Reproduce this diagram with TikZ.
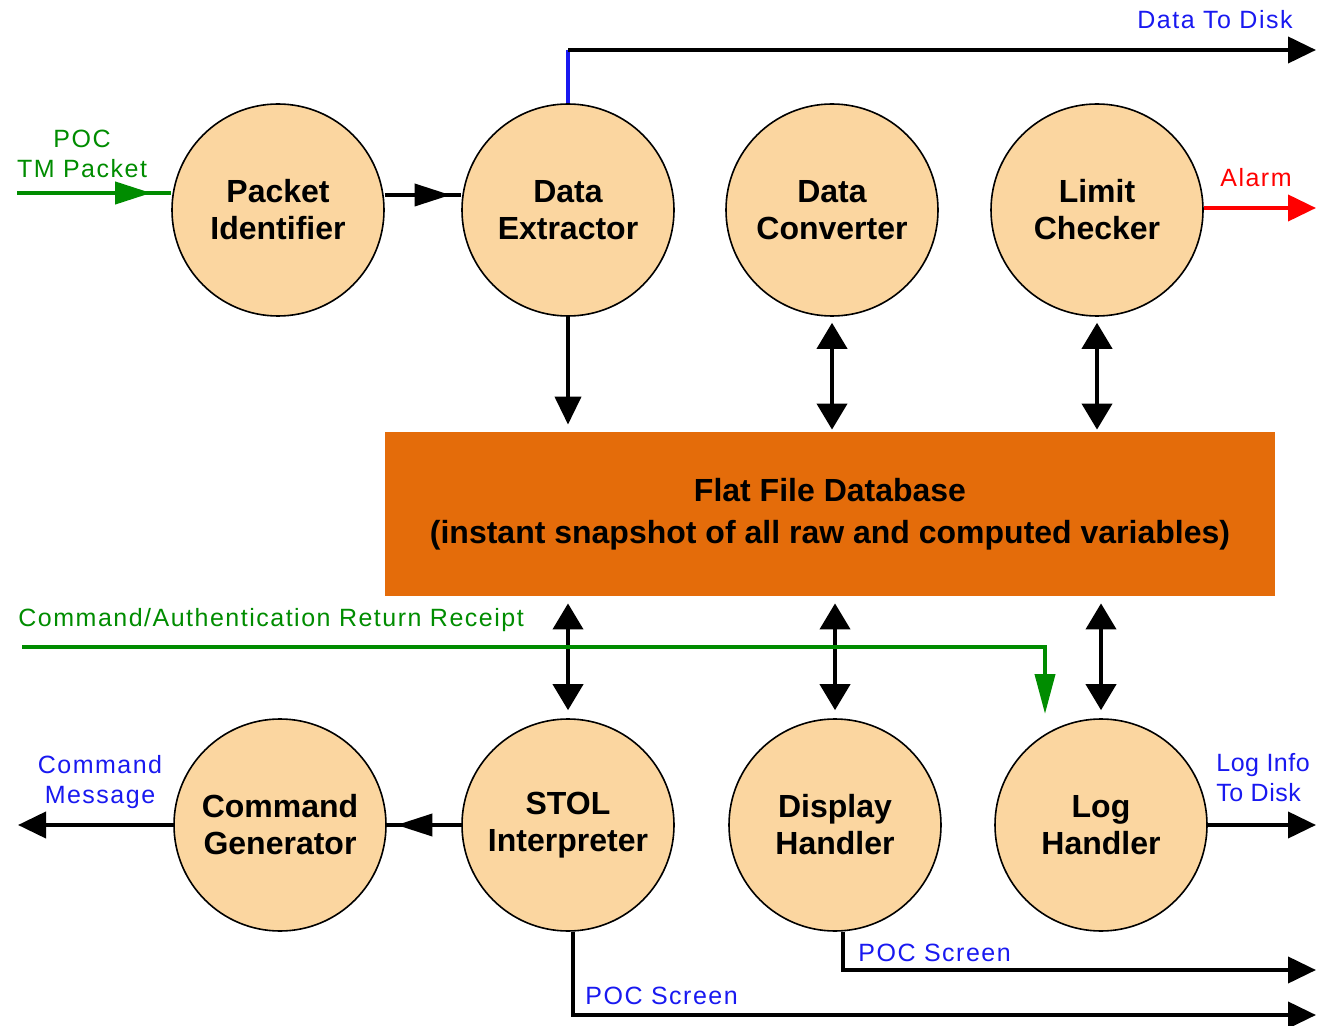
\documentclass[tikz,border=0pt]{standalone}
\usepackage{fontspec}
\setmainfont{Liberation Sans}
\usetikzlibrary{arrows.meta,decorations.markings}
\definecolor{circfill}{RGB}{251,214,160}
\definecolor{dbfill}{RGB}{228,108,10}
\definecolor{grn}{RGB}{0,140,0}
\definecolor{blu}{RGB}{25,25,240}
\definecolor{alarmred}{RGB}{255,0,0}
\begin{document}
\begin{tikzpicture}[x=0.5pt,y=-0.5pt,
  proc/.style={circle, draw=black, line width=0.8pt, fill=circfill, minimum size=106pt, inner sep=0pt, align=center, font=\fontsize{16}{18.5}\selectfont\bfseries},
  dbbox/.style={rectangle, fill=dbfill, minimum width=445pt, minimum height=82pt, inner sep=0pt, align=center, font=\fontsize{16}{21}\selectfont\bfseries},
  lbl/.style={inner sep=0pt, align=center, font=\fontsize{12.5}{15}\selectfont\addfontfeature{LetterSpace=6}},
  lbll/.style={lbl, anchor=west, align=left},
  flow/.style={line width=2pt, -{Triangle[length=14pt,width=13pt]}},
  both/.style={line width=2pt, {Triangle[length=13pt,width=15pt]}-{Triangle[length=13pt,width=15pt]}},
  midtip/.style={postaction={decorate}, decoration={markings, mark=at position #1 with {\arrow{Triangle[length=18pt,width=11pt]}}}},
]
\useasboundingbox (0,0) rectangle (1317,1026);

% processes
\node[proc] (pi) at (278,210) {Packet\\Identifier};
\node[proc] (de) at (568,210) {Data\\Extractor};
\node[proc] (dc) at (832,210) {Data\\Converter};
\node[proc] (lc) at (1097,210) {Limit\\Checker};
\node[proc] (cg) at (280,825) {Command\\Generator};
\node[proc] (si) at (568,825) {STOL\\Interpreter};
\node[proc] (dh) at (835,825) {Display\\Handler};
\node[proc] (lh) at (1101,825) {Log\\Handler};

\node[dbbox] (db) at (830,514) {Flat File Database\\(instant snapshot of all raw and computed variables)};

% free ends
\coordinate (tmin) at (17,193);
\coordinate (dtdcorner) at (568,50);
\coordinate (dtdend) at (1316,50);
\coordinate (alarmend) at (1316,208);
\coordinate (cmdout) at (18,825);
\coordinate (logout) at (1316,825);
\coordinate (retstart) at (22,647);
\coordinate (retcorner) at (1045,647);
\coordinate (retend) at (1045,714);
\coordinate (sicorner) at (573,1015);
\coordinate (siend) at (1316,1015);
\coordinate (dhcorner) at (843,970);
\coordinate (dhend) at (1316,970);

% labels
\node[lbl, text=grn] (tmlbl) at (82,154) {POC\\TM Packet};
\node[lbl, text=blu] (dtdlbl) at (1215,20) {Data To Disk};
\node[lbl, text=alarmred] (alarmlbl) at (1256,178) {Alarm};
\node[lbll, text=grn] (retlbl) at (18,620) {Command/Authentication Return Receipt};
\node[lbl, text=blu] (cmlbl) at (100,782) {Command\\Message};
\node[lbll, text=blu, font=\fontsize{12.5}{15}\selectfont\addfontfeature{LetterSpace=2}] (loglbl) at (1216,778) {Log Info\\To Disk};
\node[lbll, text=blu] (poc1lbl) at (585,996) {POC Screen};
\node[lbll, text=blu] (poc2lbl) at (858,953) {POC Screen};

% connectors top
\draw[grn, line width=2pt, midtip=0.87] (tmin) -- (pi.west |- tmin);
\draw[line width=2pt, midtip=0.86] (pi.east |- 0,195) -- (de.west |- 0,195);
\draw[blu, line width=2pt] (de.north) -- (dtdcorner);
\draw[flow] (dtdcorner) -- (dtdend);
\draw[alarmred, flow] (lc.east |- alarmend) -- (alarmend);
\draw[flow, shorten >=3.5pt] (de.south) -- (de.south |- db.north);
\draw[both, shorten <=3pt, shorten >=1pt] (dc.south) -- (dc.south |- db.north);
\draw[both, shorten <=3pt, shorten >=1pt] (lc.south) -- (lc.south |- db.north);

% connectors bottom
\draw[both, shorten <=3.5pt, shorten >=4pt] (db.south -| si.north) -- (si.north);
\draw[both, shorten <=3.5pt, shorten >=4pt] (db.south -| dh.north) -- (dh.north);
\draw[both, shorten <=3.5pt, shorten >=4pt] (db.south -| lh.north) -- (lh.north);
\draw[grn, line width=2pt, -{Triangle[length=20pt,width=10pt]}] (retstart) -- (retcorner) -- (retend);
\draw[line width=2pt, midtip=0.87] (si.west) -- (cg.east);
\draw[flow] (cg.west) -- (cmdout);
\draw[flow] (lh.east) -- (logout);
\draw[flow] (si.south -| sicorner) -- (sicorner) -- (siend);
\draw[flow] (dh.south -| dhcorner) -- (dhcorner) -- (dhend);
\end{tikzpicture}
\end{document}
